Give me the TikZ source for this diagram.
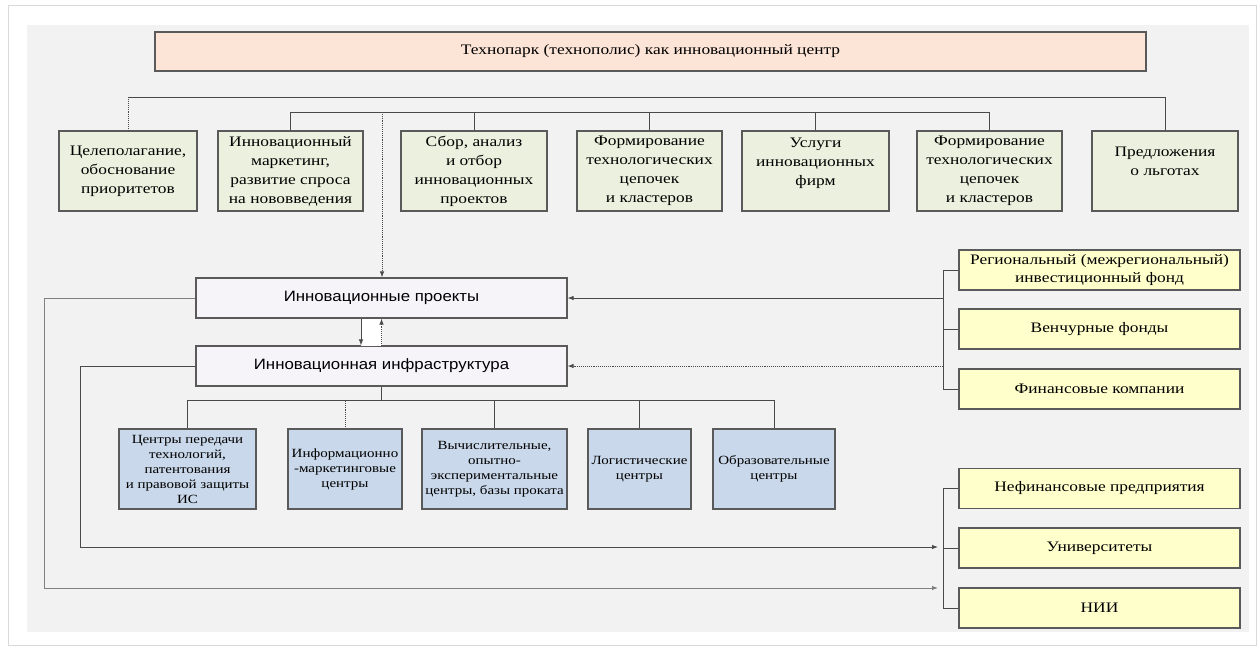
\documentclass[tikz,border=0pt]{standalone}
\usepackage{fontspec}
\setmainfont{Liberation Serif}[FakeStretch=1.2]
\newfontfamily\sansf{Liberation Sans}[FakeStretch=1.12]
\usetikzlibrary{arrows.meta}
\definecolor{panel}{HTML}{F2F2F2}
\definecolor{peach}{HTML}{FCE4D6}
\definecolor{greenf}{HTML}{EBF1DE}
\definecolor{lilac}{HTML}{F6F4F9}
\definecolor{bluef}{HTML}{C9D8EA}
\definecolor{yellowf}{HTML}{FFFFCC}
\definecolor{boxline}{HTML}{5A5A5A}
\definecolor{lncol}{HTML}{4A4A4A}
\begin{document}
\begin{tikzpicture}[x=1pt,y=-1pt,
  box/.style={draw=boxline, line width=1.1pt, inner sep=0pt, align=center,
    font=\fontsize{14.5}{19}\selectfont},
  gbox/.style={box, fill=greenf, minimum height=80pt},
  pbox/.style={box, fill=lilac, minimum width=371pt, minimum height=40pt,
    font=\sansf\fontsize{15}{18}\selectfont},
  bbox/.style={box, fill=bluef, minimum height=80pt, font=\fontsize{12.5}{15}\selectfont},
  ybox/.style={box, fill=yellowf, minimum width=281pt, minimum height=40pt,
    font=\fontsize{14.5}{18}\selectfont},
  ln/.style={draw=lncol, line width=0.9pt},
  dl/.style={ln, densely dotted},
  arr/.style={-{Latex[length=6pt,width=4.5pt]}}]
\useasboundingbox (0,0) rectangle (1260,647);
\draw[gray!30, line width=1pt, fill=white] (8,6) rectangle (1256,645);
\fill[panel] (27,25) rectangle (1249,632);

% title
\node[box, fill=peach, minimum width=991pt, minimum height=39pt] (title) at (650.5,51.5)
  {Технопарк (технополис) как инновационный центр};

% top row
\node[gbox, minimum width=138pt] (g1) at (128,171) {Целеполагание,\\ обоснование\\ приоритетов};
\node[gbox, minimum width=145pt] (g2) at (290.5,171) {Инновационный\\ маркетинг,\\ развитие спроса\\ на нововведения};
\node[gbox, minimum width=146pt] (g3) at (474,171) {Сбор, анализ\\ и отбор\\ инновационных\\ проектов};
\node[gbox, minimum width=145pt] (g4) at (649.5,171) {Формирование\\ технологических\\ цепочек\\ и кластеров};
\node[gbox, minimum width=147pt] (g5) at (815.5,171) {Услуги\\ инновационных\\ фирм\\ \mbox{}};
\node[gbox, minimum width=145pt] (g6) at (989.5,171) {Формирование\\ технологических\\ цепочек\\ и кластеров};
\node[gbox, minimum width=146pt] (g7) at (1165,171) {Предложения\\ о льготах\\ \mbox{}};

\coordinate (bus1) at (0,97);
\coordinate (bus2) at (0,112);
\draw[dl] (g1.north) -- (g1.north |- bus1);
\draw[ln] (g1.north |- bus1) -| (g7.north);
\draw[ln] (g2.north) -- (g2.north |- bus2) -| (g6.north);
\draw[ln] (g3.north) -- (g3.north |- bus2);
\draw[ln] (g4.north) -- (g4.north |- bus2);
\draw[ln] (g5.north) -- (g5.north |- bus2);

% middle boxes
\node[pbox] (proj) at (381.5,298) {Инновационные проекты};
\node[pbox] (infra) at (381.5,366) {Инновационная инфраструктура};

\coordinate (dtop) at (382,112);
\draw[dl, arr] (dtop) -- (dtop |- proj.north);

\fill[white] ([xshift=-20.5pt]proj.south) rectangle ([yshift=-0.5pt]infra.north);
\draw[ln, arr] ([xshift=-20.5pt]proj.south) -- ([xshift=-20.5pt]infra.north);
\draw[dl, arr] (infra.north) -- (proj.south);

% blue boxes
\node[bbox, minimum width=137pt] (b1) at (187.5,469) {Центры передачи\\ технологий,\\ патентования\\ и правовой защиты\\ ИС};
\node[bbox, minimum width=114pt] (b2) at (345,469) {Информационно\\ -маркетинговые\\ центры};
\node[bbox, minimum width=145pt] (b3) at (494.5,469) {Вычислительные,\\ опытно-\\ экспериментальные\\ центры, базы проката};
\node[bbox, minimum width=103pt] (b4) at (639.5,469) {Логистические\\ центры};
\node[bbox, minimum width=122pt] (b5) at (774,469) {Образовательные\\ центры};

\coordinate (bus3) at (0,400);
\draw[ln, line width=1.6pt] (infra.south) -- (infra.south |- bus3);
\draw[ln] (b1.north) -- (b1.north |- bus3) -| (b5.north);
\draw[dl] (b2.north) -- (b2.north |- bus3);
\draw[ln] (b3.north) -- (b3.north |- bus3);
\draw[ln] (b4.north) -- (b4.north |- bus3);

% right yellow boxes
\node[ybox] (y1) at (1099.5,270) {Региональный (межрегиональный)\\ инвестиционный фонд};
\node[ybox] (y2) at (1099.5,329) {Венчурные фонды};
\node[ybox] (y3) at (1099.5,389) {Финансовые компании};
\node[ybox] (n1) at (1099.5,488.5) {Нефинансовые предприятия};
\node[ybox] (n2) at (1099.5,548) {Университеты};
\node[ybox] (n3) at (1099.5,608) {НИИ};

\coordinate (rbx) at (943,0);
\draw[ln] (y1.west) -- (y1.west -| rbx) -- (y3.west -| rbx) -- (y3.west);
\draw[ln] (y2.west) -- (y2.west -| rbx);
\draw[ln, arr] (proj.east -| rbx) -- (proj.east);
\draw[dl, arr] (infra.east -| rbx) -- (infra.east);

\draw[ln] (n1.west) -- (n1.west -| rbx) -- (n3.west -| rbx) -- (n3.west);
\draw[ln] (n2.west) -- (n2.west -| rbx);

\coordinate (lx1) at (80,0);
\coordinate (lx2) at (44,0);
\coordinate (ua) at (938,547);
\coordinate (na) at (938,588);
\draw[ln, arr] (infra.west) -- (infra.west -| lx1) -- (lx1 |- ua) -- (ua);
\draw[ln, draw=gray, arr] (proj.west) -- (proj.west -| lx2) -- (lx2 |- na) -- (na);
\end{tikzpicture}
\end{document}
